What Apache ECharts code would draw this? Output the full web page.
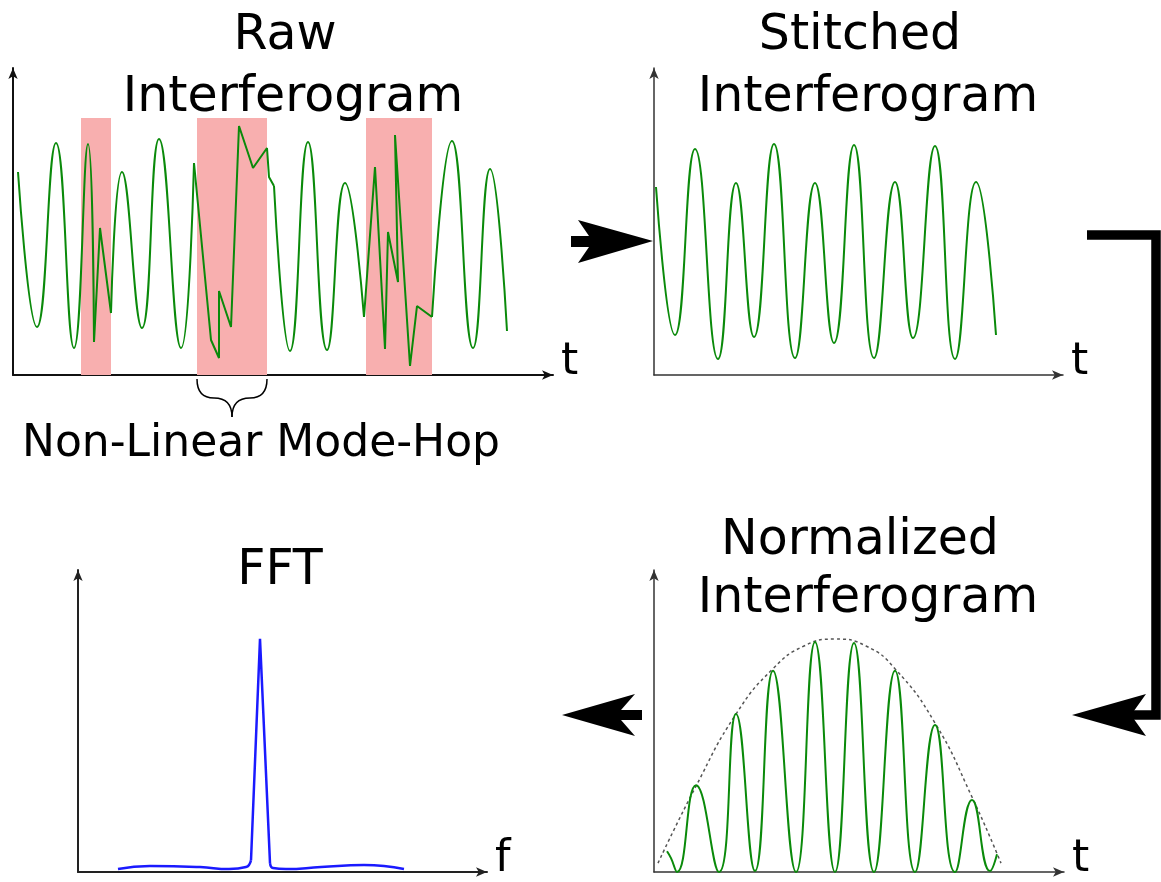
<!DOCTYPE html>
<html>
<head>
<meta charset="utf-8">
<script src="https://cdn.jsdelivr.net/npm/echarts@6/dist/echarts.min.js"></script>
<style>
html,body{margin:0;padding:0;background:#fff}
#main{width:1161px;height:882px}
</style>
</head>
<body>
<div id="main"></div>
<script>
// all values are [t, amplitude], in sketch units

// raw interferogram, smooth parts and the jumpy (mode-hop) parts
var rawSmoothA = [[5,203],[24,48],[43,232],[61,27],[75,231],[81,33]];
var rawHopA = [[81,33],[87,147],[98,62]];
var rawSmoothB = [[98,62],[109,203],[129,47],[146,236],[168,27],[181,212]];
var rawHopB = [[181,212],[198,35],[206,17],[206,84],[218,48],[226,249],[240,207],[254,227],[256,198],[261,189]];
var rawSmoothC = [[261,189],[277,24],[295,233],[314,25],[332,192],[351,58]];
var rawHopC = [[351,58],[362,208],[372,26],[375,143],[385,93],[382,240],[397,9],[404,69],[419,58]];
var rawSmoothD = [[419,58],[439,234],[460,27],[477,206],[494,44]];
// mode-hop bands
var bandStart = [68, 184, 353];
var bandEnd = [98, 254, 419];
var bandTop = 257;

// stitched interferogram
var stitched = [[2,188],[21,40],[41,226],[64,16],[82,192],[100,38],[120,231],[141,17],[161,192],
  [180,32],[200,230],[220,17],[241,193],[259,37],[281,229],[301,16],[322,193],[342,40]];

// normalized interferogram + its envelope
var normalized = [[13,21],[17,14],[23,0],[42,88],[65,0],[82,160],[101,1],[119,204],[142,0],[161,233],
  [181,0],[200,232],[220,0],[241,204],[261,0],[281,149],[301,0],[318,73],[336,1],[343,18]];
var envelope = [[4,9],[42,87],[82,160],[119,206],[150,229],[181,236],[212,229],[241,206],[281,151],[318,76],[347,9]];

// FFT
var fftLeft = [[40,3],[72,6],[122,5],[151,3],[168,5],[173,12]];
var fftPeak = [[173,12],[182,237],[192,9]];
var fftRight = [[192,9],[195,4],[208,3],[243,5],[286,7],[326,3]];

var FONT = '"DejaVu Sans", Verdana, sans-serif';
var GREEN = '#0a8a0a';

var chart = echarts.init(document.getElementById('main'));

function xAx(grid, max, name, color, width) {
  return {
    type: 'value', gridIndex: grid, min: 0, max: max,
    name: name, nameLocation: 'end', nameGap: 8,
    nameTextStyle: {fontSize: 44, fontFamily: FONT, color: '#000', verticalAlign: 'bottom', align: 'left', padding: [0, 0, -10, 0]},
    axisLine: {show: true, symbol: ['none', 'arrow'], symbolSize: [7, 11], lineStyle: {color: color, width: width}},
    axisTick: {show: false}, axisLabel: {show: false}, splitLine: {show: false}
  };
}
function yAx(grid, max, color, width) {
  return {
    type: 'value', gridIndex: grid, min: 0, max: max,
    axisLine: {show: true, symbol: ['none', 'arrow'], symbolSize: [7, 11], lineStyle: {color: color, width: width}},
    axisTick: {show: false}, axisLabel: {show: false}, splitLine: {show: false}
  };
}
function line(data, idx, color, width, smooth, dash) {
  return {
    type: 'line', xAxisIndex: idx, yAxisIndex: idx, data: data,
    smooth: smooth, showSymbol: false, silent: true, z: 3,
    lineStyle: {color: color, width: width, type: dash || 'solid'}
  };
}

var bands = [];
for (var i = 0; i < bandStart.length; i++) {
  bands.push([{xAxis: bandStart[i], yAxis: 0}, {xAxis: bandEnd[i], yAxis: bandTop}]);
}

chart.setOption({
  animation: false,
  backgroundColor: '#fff',
  grid: [
    {left: 13, top: 68, width: 540, height: 307},
    {left: 654, top: 68, width: 409, height: 307},
    {left: 654, top: 570, width: 410, height: 306},
    {left: 78, top: 570, width: 409, height: 307}
  ],
  xAxis: [
    xAx(0, 540, 't', '#111', 2),
    xAx(1, 409, 't', '#333', 1.5),
    xAx(2, 410, 't', '#333', 1.5),
    xAx(3, 409, 'f', '#222', 2)
  ],
  yAxis: [
    yAx(0, 307, '#111', 2),
    yAx(1, 307, '#333', 1.5),
    yAx(2, 306, '#333', 1.5),
    yAx(3, 307, '#222', 2)
  ],
  series: [
    {type: 'line', xAxisIndex: 0, yAxisIndex: 0, data: [], z: 1,
     markArea: {silent: true, itemStyle: {color: '#f8afaf', opacity: 1}, data: bands}},
    line(rawSmoothA, 0, GREEN, 2, true),
    line(rawHopA, 0, GREEN, 2, false),
    line(rawSmoothB, 0, GREEN, 2, true),
    line(rawHopB, 0, GREEN, 2, false),
    line(rawSmoothC, 0, GREEN, 2, true),
    line(rawHopC, 0, GREEN, 2, false),
    line(rawSmoothD, 0, GREEN, 2, true),
    line(stitched, 1, GREEN, 2, true),
    line(envelope, 2, '#555', 1.5, true, [3, 3]),
    line(normalized, 2, GREEN, 2, true),
    line(fftLeft, 3, '#1a1aff', 2.5, true),
    line(fftPeak, 3, '#1a1aff', 2.5, false),
    line(fftRight, 3, '#1a1aff', 2.5, true)
  ]
});

// brace under the middle mode-hop band
var pL = chart.convertToPixel({gridIndex: 0}, [bandStart[1], 0]);
var pR = chart.convertToPixel({gridIndex: 0}, [bandEnd[1], 0]);
var mx = (pL[0] + pR[0]) / 2, by = pL[1] + 4, bm = by + 19, bt = by + 38;
function curve(x1, y1, cx, cy, x2, y2) {
  return {type: 'bezierCurve', silent: true,
    shape: {x1: x1, y1: y1, cpx1: cx, cpy1: cy, x2: x2, y2: y2},
    style: {stroke: '#000', lineWidth: 1.5, fill: null}};
}
var brace = [
  curve(pL[0], by, pL[0], bm, pL[0] + 17, bm),
  curve(pL[0] + 17, bm, mx, bm, mx, bt),
  curve(mx, bt, mx, bm, pR[0] - 17, bm),
  curve(pR[0] - 17, bm, pR[0], bm, pR[0], by)
];

function txt(s, x, y, size) {
  return {type: 'text', silent: true, style: {text: s, x: x, y: y, fontSize: size, fontFamily: FONT,
    fill: '#000', align: 'center', verticalAlign: 'middle'}};
}

chart.setOption({
  graphic: [
    txt('Raw', 285, 36, 49),
    txt('Interferogram', 293, 98, 49),
    txt('Stitched', 860, 36, 49),
    txt('Interferogram', 868, 98, 49),
    txt('Normalized', 860, 541, 49),
    txt('Interferogram', 868, 599, 49),
    txt('FFT', 280, 571, 49),
    txt('Non-Linear Mode-Hop', 261, 445, 44),
    // arrow into the stitched panel
    {type: 'polygon', silent: true, shape: {points: [[571,236],[589,236],[578,220],[653,241],[578,263],[589,247],[571,247]]}, style: {fill: '#000'}},
    // bracket from stitched down to normalized
    {type: 'polyline', silent: true, shape: {points: [[1087,235],[1156,235],[1156,715],[1128,715]]},
     style: {stroke: '#000', lineWidth: 9.5, fill: null, lineJoin: 'miter'}},
    {type: 'polygon', silent: true, shape: {points: [[1072,715],[1146,694],[1131,715],[1146,736]]}, style: {fill: '#000'}},
    // arrow from normalized to FFT
    {type: 'polygon', silent: true, shape: {points: [[562,715],[635,694],[621,710],[642,710],[642,720],[621,720],[635,736]]}, style: {fill: '#000'}}
  ].concat(brace)
});
</script>
</body>
</html>
